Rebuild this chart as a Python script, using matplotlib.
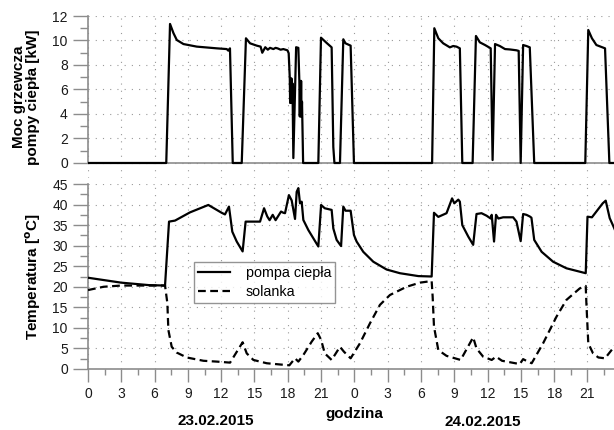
import matplotlib
matplotlib.use("Agg")
import matplotlib.pyplot as plt
from matplotlib.ticker import FixedLocator, MultipleLocator
import numpy as np

plt.rcParams["font.family"] = ["Liberation Sans", "DejaVu Sans"]

# moc grzewcza pompy ciepla [kW]
moc_h = [0, 7.05, 7.39, 7.7, 8.0, 8.6, 9.8, 11.6, 12.5, 12.64, 12.79, 13.04,
         13.85, 14.23, 14.6, 15.2, 15.55, 15.7, 15.97, 16.2, 16.4, 16.7, 16.9, 17.1, 17.35, 17.6, 17.97, 18.08,
         18.18, 18.21, 18.25, 18.29, 18.33, 18.37, 18.42, 18.5, 18.75, 18.95, 19.04, 19.08, 19.12, 19.16, 19.2,
         19.24, 19.28, 19.38, 20.75, 20.99, 21.5, 21.95, 22.1, 22.2, 22.7, 23.0, 23.2, 23.66, 23.96,
         31.0, 31.2, 31.56, 32.0, 32.6, 32.9, 33.2, 33.5, 33.72, 34.65, 34.95, 35.3, 35.77, 36.28, 36.45,
         36.67, 37.1, 37.57, 38.0, 38.6, 38.8, 38.98, 39.2, 39.5, 39.8, 40.2, 44.8, 45.07, 45.4, 45.8,
         46.58, 46.97, 47.6]
moc_kw = [0, 0, 11.35, 10.6, 10.04, 9.71, 9.5, 9.36, 9.3, 9.17, 9.36, 0,
          0, 10.18, 9.77, 9.58, 9.5, 9.0, 9.45, 9.25, 9.4, 9.3, 9.4, 9.35, 9.25, 9.3, 9.2, 8.96,
          6.9, 4.9, 6.9, 4.9, 6.9, 4.9, 6.5, 0.4, 9.45, 9.4, 6.7, 3.8, 6.7, 3.8, 6.7,
          3.8, 5.0, 0, 0, 10.23, 9.8, 9.44, 1.3, 0, 0, 10.1, 9.77, 9.58, 0,
          0, 11.0, 10.18, 9.77, 9.44, 9.55, 9.5, 9.36, 0, 0, 10.37, 9.85, 9.63, 9.36, 0.24,
          9.71, 9.55, 9.3, 9.27, 9.2, 9.15, 0, 9.63, 9.55, 9.44, 0, 0, 10.86, 10.18, 9.63,
          9.36, 0, 0]

# temperatura pompy ciepla [oC]
pompa_h = [0, 3.0, 5.5, 6.94, 7.3, 7.84, 9.19, 10.84, 12.04, 12.34, 12.7, 13.0, 13.4, 13.93, 14.2,
           15.5, 15.86, 16.15, 16.36, 16.64, 16.9, 17.39, 17.6, 17.75, 18.1, 18.35, 18.65, 18.8, 18.95,
           19.1, 19.25, 19.4, 19.85, 20.75, 21.0, 21.33, 21.95, 22.1, 22.4, 22.8, 23.0, 23.2, 23.66,
           23.96, 24.2, 24.8, 25.7, 26.9, 28.1, 29.76, 30.96, 31.17, 31.56, 32.3, 32.8, 33.0, 33.36,
           33.5, 33.72, 34.26, 34.7, 35.0, 35.45, 35.9, 36.28, 36.37, 36.58, 36.76, 36.97, 37.4, 38.3,
           38.6, 38.98, 39.2, 39.5, 39.8, 39.95, 40.2, 40.87, 41.9, 43.1, 44.84, 45.0, 45.4, 45.8,
           46.37, 46.64, 47.0, 47.4, 47.6]
pompa_t = [22.2, 21.0, 20.4, 20.3, 35.85, 36.1, 38.1, 39.9, 38.0, 37.6, 39.5, 33.4, 31.0, 28.6, 35.85,
           35.85, 39.1, 37.1, 36.2, 37.5, 36.2, 38.3, 38.0, 37.9, 42.3, 41.0, 36.5, 43.1, 44.0,
           40.3, 40.7, 36.25, 33.8, 29.8, 39.9, 39.1, 38.7, 34.2, 31.4, 29.9, 39.5, 38.5, 38.5,
           32.6, 31.0, 28.5, 26.1, 24.2, 23.3, 22.6, 22.5, 38.0, 37.0, 37.9, 41.5, 40.3, 41.2,
           40.7, 35.0, 32.2, 30.2, 37.7, 37.9, 37.3, 36.6, 37.5, 31.0, 37.5, 36.6, 36.9, 36.9,
           35.85, 31.1, 37.7, 37.5, 37.1, 36.8, 31.4, 28.5, 26.1, 24.5, 23.3, 37.05, 36.9, 38.3,
           40.3, 40.95, 36.7, 34.3, 33.0]

# temperatura solanki [oC]
solanka_h = [0, 1.4, 3.0, 6.94, 7.15, 7.24, 7.54, 7.99, 8.9, 10.4, 11.6, 12.8, 13.93, 14.3, 14.9,
             16.1, 17.3, 18.14, 18.65, 18.95, 19.4, 20.15, 20.7, 21.0, 21.33, 21.95, 22.7, 23.06, 23.66,
             24.5, 25.4, 26.3, 27.2, 28.7, 29.9, 30.96, 31.05, 31.17, 31.56, 32.3, 33.57, 34.7, 35.0,
             35.6, 36.37, 36.76, 37.3, 38.9, 39.2, 39.55, 39.97, 41.0, 42.2, 43.1, 44.3, 44.84, 44.9,
             45.07, 45.5, 45.98, 46.58, 47.4, 47.6]
solanka_t = [19.2, 20.0, 20.3, 20.3, 16.0, 9.5, 5.4, 4.0, 2.8, 2.0, 1.8, 1.55, 6.5, 3.8, 2.2,
             1.4, 1.1, 0.9, 2.6, 1.8, 3.4, 6.65, 8.7, 7.1, 3.8, 2.2, 5.4, 4.2, 2.6,
             6.25, 11.1, 15.6, 18.0, 20.0, 21.0, 21.4, 17.6, 10.3, 4.6, 3.2, 2.2, 7.7, 5.0,
             3.0, 2.2, 3.0, 2.0, 1.2, 2.4, 1.9, 1.4, 6.25, 12.7, 16.8, 19.6, 20.2, 16.0,
             6.25, 3.8, 2.8, 2.6, 5.4, 6.2]

tick_hours = list(range(0, 48, 3))
tick_labels = [str(h % 24) for h in tick_hours]

W, H = 614, 430
SPINE = "#8c8c8c"
GRID = "#9a9a9a"
TXT = "#1a1a1a"

fig = plt.figure(figsize=(W / 100, H / 100), dpi=100)
x0 = 88 / W
ax1 = fig.add_axes([x0, 1 - 178.3 / H, 1 - x0, (178.3 - 16) / H])
ax2 = fig.add_axes([x0, 1 - 369 / H, 1 - x0, (369 - 184) / H])

xmax = (W - 88) / 11.1

for ax in (ax1, ax2):
    ax.set_xlim(0, xmax)
    for s in ["top", "right"]:
        ax.spines[s].set_visible(False)
    ax.spines["left"].set_color(SPINE)
    ax.spines["bottom"].set_color(SPINE)
    ax.spines["left"].set_linewidth(1.2)
    ax.spines["bottom"].set_linewidth(1.2)
    ax.xaxis.set_major_locator(FixedLocator(tick_hours))
    ax.xaxis.set_minor_locator(MultipleLocator(1.5))
    ax.grid(True, which="major", color=GRID, linestyle=(0, (1, 5.5)), linewidth=0.8)
    ax.tick_params(which="both", colors=SPINE, labelcolor=TXT, labelsize=10, width=1.0)

# top panel
ax1.plot(moc_h, moc_kw, color="black", lw=1.6, zorder=3)
ax1.set_ylim(-1.25, 12)
ax1.spines["left"].set_bounds(0, 12)
ax1.spines["bottom"].set_visible(False)
ax1.axhline(0, color=SPINE, lw=1.2, zorder=2)
ax1.set_yticks(range(0, 13, 2))
ax1.yaxis.set_minor_locator(FixedLocator(range(1, 12, 2)))
ax1.tick_params(axis="y", which="major", length=11)
ax1.tick_params(axis="y", which="minor", length=6)
ax1.tick_params(axis="x", which="both", length=0, labelbottom=False)
ax1.set_ylabel("Moc grzewcza\npompy ciepła [kW]", fontsize=11, fontweight="bold",
               linespacing=1.0, labelpad=9)

# bottom panel
ax2.plot(pompa_h, pompa_t, color="black", lw=1.6, label="pompa ciepła", zorder=3)
ax2.plot(solanka_h, solanka_t, color="black", lw=1.6, linestyle=(0, (3.5, 2)), label="solanka", zorder=3)
ax2.set_ylim(0, 45)
ax2.set_yticks(range(0, 46, 5))
ax2.yaxis.set_minor_locator(MultipleLocator(2.5))
ax2.set_xticklabels(tick_labels)
ax2.tick_params(axis="y", which="major", length=11)
ax2.tick_params(axis="y", which="minor", length=6)
ax2.tick_params(axis="x", which="major", length=9, pad=4)
ax2.tick_params(axis="x", which="minor", length=4.5)
ax2.set_ylabel("Temperatura [$\\mathbf{^{o}}$C]", fontsize=11, fontweight="bold", labelpad=7)

leg = ax2.legend(loc="upper left", bbox_to_anchor=((194 - 88) / (W - 88), 1 - (262 - 184) / 185),
                 fontsize=10.3, frameon=True, fancybox=False, handlelength=2.2, borderpad=0.3,
                 labelspacing=0.3, handletextpad=1.1, borderaxespad=0)
leg.get_frame().set_edgecolor("#7a7a7a")
leg.get_frame().set_linewidth(1.0)

fig.text(216 / W, 1 - 421 / H, "23.02.2015", ha="center", va="center", fontsize=11, fontweight="bold")
fig.text(354 / W, 1 - 414 / H, "godzina", ha="center", va="center", fontsize=11, fontweight="bold")
fig.text(483 / W, 1 - 422 / H, "24.02.2015", ha="center", va="center", fontsize=11, fontweight="bold")

fig.savefig("out.png", dpi=100)
